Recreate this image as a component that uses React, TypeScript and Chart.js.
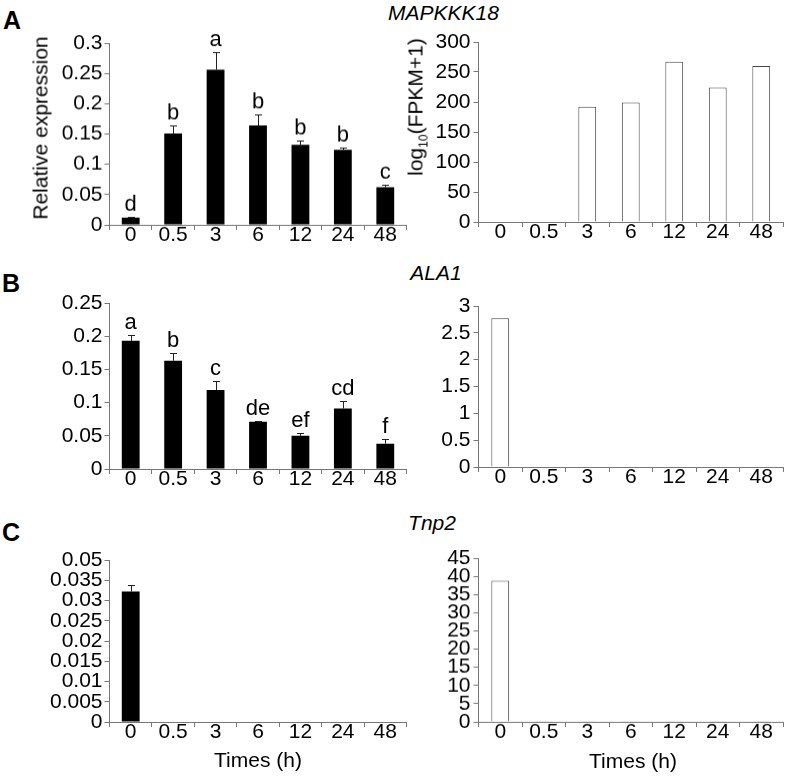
import React, { useEffect, useRef } from 'react';
import { Chart, registerables } from 'chart.js';

Chart.register(...registerables);

const FONT = '"Liberation Sans", Arial, Helvetica, sans-serif';

// ---------- data ----------
const timePoints = ['0', '0.5', '3', '6', '12', '24', '48'];

// A: MAPKKK18
const mapkkk18Rel = [0.012, 0.151, 0.256, 0.164, 0.132, 0.124, 0.062];
const mapkkk18Err = [0.0015, 0.013, 0.029, 0.019, 0.008, 0.0035, 0.004];
const mapkkk18Sig = ['d', 'b', 'a', 'b', 'b', 'b', 'c'];
const mapkkk18Fpkm = [0, 0, 192, 199, 267, 224, 260];

// B: ALA1
const ala1Rel = [0.193, 0.163, 0.119, 0.071, 0.05, 0.091, 0.038];
const ala1Err = [0.009, 0.011, 0.0135, 0.002, 0.004, 0.011, 0.007];
const ala1Sig = ['a', 'b', 'c', 'de', 'ef', 'cd', 'f'];
const ala1Fpkm = [2.77, 0, 0, 0, 0, 0, 0];

// C: Tnp2
const tnp2Rel = [0.0322, 0, 0.0001, 0, 0, 0.0001, 0.0001];
const tnp2Err = [0.0016, 0, 0, 0, 0, 0, 0];
const tnp2Fpkm = [38.8, 0.2, 0.2, 0.2, 0.2, 0.2, 0.2];

// tick values and labels
const ticksARel = [0, 0.05, 0.1, 0.15, 0.2, 0.25, 0.3];
const labelsARel = ['0', '0.05', '0.1', '0.15', '0.2', '0.25', '0.3'];
const ticksAFpkm = [0, 50, 100, 150, 200, 250, 300];
const labelsAFpkm = ['0', '50', '100', '150', '200', '250', '300'];
const ticksBRel = [0, 0.05, 0.1, 0.15, 0.2, 0.25];
const labelsBRel = ['0', '0.05', '0.1', '0.15', '0.2', '0.25'];
const ticksBFpkm = [0, 0.5, 1, 1.5, 2, 2.5, 3];
const labelsBFpkm = ['0', '0.5', '1', '1.5', '2', '2.5', '3'];
const ticksCRel = [0, 0.005, 0.01, 0.015, 0.02, 0.025, 0.03, 0.035, 0.04];
const labelsCRel = ['0', '0.005', '0.01', '0.015', '0.02', '0.025', '0.03', '0.035', '0.05'];
const ticksCFpkm = [0, 5, 10, 15, 20, 25, 30, 35, 40, 45];
const labelsCFpkm = ['0', '5', '10', '15', '20', '25', '30', '35', '40', '45'];

type Rect = { left: number; top: number; width: number; height: number };
type Area = { left: number; right: number; top: number; bottom: number };

const makeErrPlugin = (values: number[], errors?: number[], letters?: string[]) => ({
  id: 'errLetters',
  afterDatasetsDraw(chart: any) {
    const ctx = chart.ctx;
    const meta = chart.getDatasetMeta(0);
    const y = chart.scales.y;
    ctx.save();
    ctx.strokeStyle = '#222';
    ctx.lineWidth = 1;
    ctx.fillStyle = '#000';
    ctx.font = `22px ${FONT}`;
    ctx.textAlign = 'center';
    ctx.textBaseline = 'alphabetic';
    meta.data.forEach((bar: any, i: number) => {
      const err = errors ? errors[i] || 0 : 0;
      const top = y.getPixelForValue(values[i] + err);
      if (err > 0) {
        const x = Math.round(bar.x) + 0.5;
        ctx.beginPath();
        ctx.moveTo(x, bar.y);
        ctx.lineTo(x, Math.round(top) + 0.5);
        ctx.moveTo(x - 3.5, Math.round(top) + 0.5);
        ctx.lineTo(x + 3.5, Math.round(top) + 0.5);
        ctx.stroke();
      }
      if (letters && letters[i]) ctx.fillText(letters[i], bar.x, top - 6);
    });
    ctx.restore();
  },
});

function BarPanel(props: {
  rect: Rect;
  area: Area;
  values: number[];
  ticks: number[];
  tickLabels: string[];
  filled: boolean;
  errors?: number[];
  letters?: string[];
}) {
  const ref = useRef<HTMLCanvasElement>(null);
  const { rect, area, values, ticks, tickLabels, filled, errors, letters } = props;
  useEffect(() => {
    if (!ref.current) return;
    const yAxisWidth = area.left - rect.left;
    const padTop = area.top - rect.top;
    const padRight = rect.left + rect.width - area.right;
    const xAxisHeight = rect.top + rect.height - area.bottom;
    const chart = new Chart(ref.current, {
      type: 'bar',
      data: {
        labels: timePoints,
        datasets: [
          {
            data: values,
            backgroundColor: filled ? '#000' : '#fff',
            borderColor: filled ? '#000' : '#444',
            borderWidth: filled ? 0 : 1,
            barPercentage: filled ? 0.42 : 0.41,
            categoryPercentage: 1,
          },
        ],
      },
      options: {
        animation: false,
        responsive: false,
        maintainAspectRatio: false,
        layout: { padding: { top: padTop, right: padRight, left: 0, bottom: 0 } },
        plugins: { legend: { display: false }, tooltip: { enabled: false } },
        scales: {
          x: {
            offset: true,
            grid: {
              display: true,
              drawOnChartArea: false,
              drawTicks: true,
              tickLength: 5,
              color: '#777',
              offset: true,
            },
            border: { display: true, color: '#777', width: 1 },
            ticks: {
              font: { family: FONT, size: 21 },
              color: '#000',
              padding: -7,
              autoSkip: false,
              maxRotation: 0,
            },
            afterFit: (s: any) => {
              s.height = xAxisHeight;
            },
          } as any,
          y: {
            min: 0,
            max: ticks[ticks.length - 1],
            afterBuildTicks: (s: any) => {
              s.ticks = ticks.map((v) => ({ value: v }));
            },
            grid: { drawOnChartArea: false, drawTicks: true, tickLength: 5, color: '#777' },
            border: { display: true, color: '#777', width: 1 },
            ticks: {
              callback: (_v: any, i: number) => tickLabels[i],
              font: { family: FONT, size: 21 },
              color: '#000',
              padding: filled ? 2 : 3,
              autoSkip: false,
            },
            afterFit: (s: any) => {
              s.width = yAxisWidth;
            },
          } as any,
        },
      },
      plugins: [makeErrPlugin(values, errors, letters)],
    });
    return () => chart.destroy();
  }, []);
  return (
    <div style={{ position: 'absolute', left: rect.left, top: rect.top, width: rect.width, height: rect.height }}>
      <canvas ref={ref} width={rect.width} height={rect.height} style={{ width: rect.width, height: rect.height, display: 'block' }} />
    </div>
  );
}

function Label(props: { x: number; y: number; size: number; bold?: boolean; italic?: boolean; rotate?: boolean; children: any }) {
  const { x, y, size, bold, italic, rotate, children } = props;
  return (
    <div
      style={{
        position: 'absolute',
        left: x,
        top: y,
        transform: `translate(-50%, -50%)${rotate ? ' rotate(-90deg)' : ''}`,
        fontFamily: FONT,
        fontSize: size,
        fontWeight: bold ? 'bold' : 'normal',
        fontStyle: italic ? 'italic' : 'normal',
        lineHeight: 1,
        whiteSpace: 'nowrap',
        color: '#000',
      }}
    >
      {children}
    </div>
  );
}

const LEFT_X = 36;
const LEFT_W = 384;
const RIGHT_X = 425;
const RIGHT_W = 362;
const LEFT_AX = { left: 109.5, right: 406.5 };
const RIGHT_AX = { left: 478.5, right: 783 };

function panel(x: number, w: number, ax: { left: number; right: number }, top: number, bottom: number) {
  return {
    rect: { left: x, top: top - 16, width: w, height: bottom - top + 16 + 30 },
    area: { left: ax.left, right: ax.right, top, bottom },
  };
}

export default function App() {
  const aL = panel(LEFT_X, LEFT_W, LEFT_AX, 43.3, 225);
  const aR = panel(RIGHT_X, RIGHT_W, RIGHT_AX, 42.3, 222.3);
  const bL = panel(LEFT_X, LEFT_W, LEFT_AX, 303.3, 469.3);
  const bR = panel(RIGHT_X, RIGHT_W, RIGHT_AX, 305.7, 467);
  const cL = panel(LEFT_X, LEFT_W, LEFT_AX, 560, 722);
  const cR = panel(RIGHT_X, RIGHT_W, RIGHT_AX, 558.3, 722);
  return (
    <div style={{ position: 'absolute', left: 0, top: 0, width: 787, height: 776, background: '#fff', overflow: 'hidden' }}>
      <BarPanel {...aL} values={mapkkk18Rel} ticks={ticksARel} tickLabels={labelsARel} filled errors={mapkkk18Err} letters={mapkkk18Sig} />
      <BarPanel {...aR} values={mapkkk18Fpkm} ticks={ticksAFpkm} tickLabels={labelsAFpkm} filled={false} />
      <BarPanel {...bL} values={ala1Rel} ticks={ticksBRel} tickLabels={labelsBRel} filled errors={ala1Err} letters={ala1Sig} />
      <BarPanel {...bR} values={ala1Fpkm} ticks={ticksBFpkm} tickLabels={labelsBFpkm} filled={false} />
      <BarPanel {...cL} values={tnp2Rel} ticks={ticksCRel} tickLabels={labelsCRel} filled errors={tnp2Err} />
      <BarPanel {...cR} values={tnp2Fpkm} ticks={ticksCFpkm} tickLabels={labelsCFpkm} filled={false} />

      <Label x={12} y={20} size={25} bold>A</Label>
      <Label x={11} y={282.5} size={25} bold>B</Label>
      <Label x={11} y={532} size={25} bold>C</Label>

      <Label x={443.5} y={11.5} size={21} italic>MAPKKK18</Label>
      <Label x={436} y={271.5} size={21} italic>ALA1</Label>
      <Label x={432} y={522} size={21} italic>Tnp2</Label>

      <Label x={40} y={128} size={21} rotate>Relative expression</Label>
      <Label x={415} y={106.5} size={21} rotate>
        log<sub style={{ fontSize: 12, verticalAlign: 'sub', lineHeight: 0 }}>10</sub>(FPKM+1)
      </Label>

      <Label x={258} y={759} size={21}>Times (h)</Label>
      <Label x={633} y={760} size={21}>Times (h)</Label>
    </div>
  );
}
